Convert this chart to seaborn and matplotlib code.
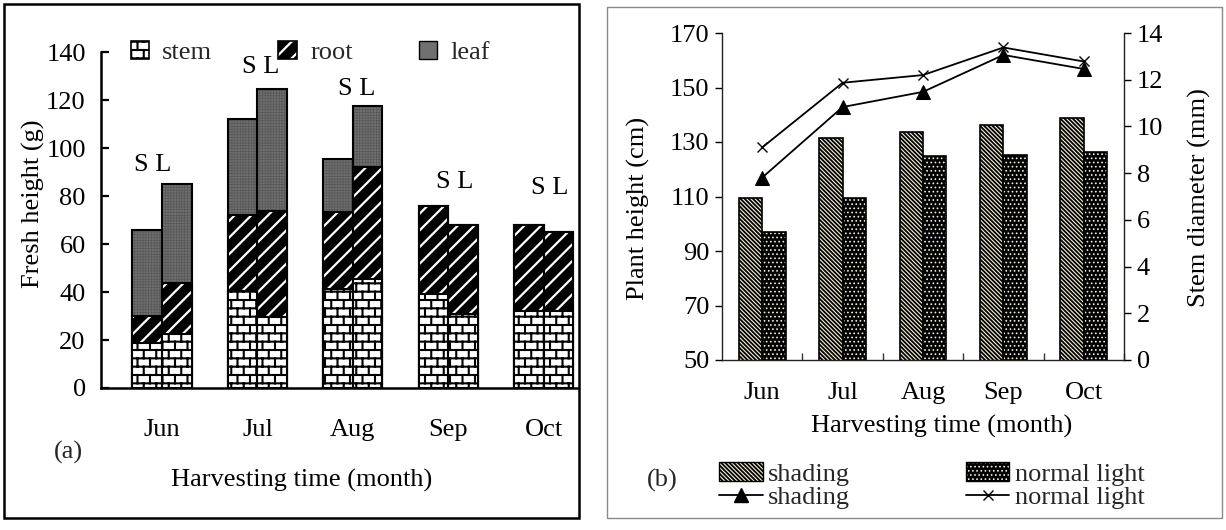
import warnings
warnings.filterwarnings("ignore")
import numpy as np
import pandas as pd
import matplotlib
matplotlib.use("Agg")
import matplotlib.pyplot as plt
import matplotlib.hatch as mhatch
from matplotlib.patches import Patch, Rectangle
from matplotlib.lines import Line2D
from matplotlib.path import Path
import seaborn as sns

# ---------------- data ----------------
months = ["Jun", "Jul", "Aug", "Sep", "Oct"]
treat_labels = ["S", "L"]

# panel (a): fresh weight parts (g); S = shading, L = normal light
stem_S = [18.6, 40.5, 41.1, 39.4, 32.1]
stem_L = [22.5, 29.5, 45.3, 31.0, 32.1]
root_S = [11.6, 31.8, 32.1, 36.6, 35.7]
root_L = [21.4, 44.4, 46.9, 36.8, 32.9]
leaf_S = [35.5, 40.0, 22.1, 0.0, 0.0]
leaf_L = [41.2, 51.0, 25.6, 0.0, 0.0]

# panel (b): plant height (cm) bars and stem diameter (mm) lines
height_S = [109.5, 131.5, 133.7, 136.3, 138.9]
height_L = [97.0, 109.3, 124.9, 125.3, 126.2]
diam_S = [7.81, 10.83, 11.48, 13.06, 12.46]
diam_L = [9.10, 11.87, 12.20, 13.38, 12.78]

a_yticks = [0, 20, 40, 60, 80, 100, 120, 140]
b_yticks = [50, 70, 90, 110, 130, 150, 170]
b_y2ticks = [0, 2, 4, 6, 8, 10, 12, 14]

# ---------------- custom brick hatch ----------------
class BrickHatch(mhatch.HatchPatternBase):
    rows = 12
    cols = 8

    def __init__(self, hatch, density):
        self.segs = []
        if "B" in hatch:
            R, C = self.rows, self.cols
            for i in range(R + 1):
                self.segs.append(((0.0, i / R), (1.0, i / R)))
            for i in range(R):
                y0, y1 = i / R, (i + 1) / R
                if i % 2 == 0:
                    xs = [j / C for j in range(C + 1)]
                else:
                    xs = [(j + 0.5) / C for j in range(C)]
                for x in xs:
                    self.segs.append(((x, y0), (x, y1)))
        self.num_vertices = 2 * len(self.segs)

    def set_vertices_and_codes(self, vertices, codes):
        for k, (a, b) in enumerate(self.segs):
            vertices[2 * k] = a
            vertices[2 * k + 1] = b
            codes[2 * k] = Path.MOVETO
            codes[2 * k + 1] = Path.LINETO


mhatch._hatch_types.append(BrickHatch)

# ---------------- style ----------------
sns.set_theme(style="ticks")
plt.rcParams["font.family"] = ["Liberation Serif", "DejaVu Serif"]
plt.rcParams["hatch.linewidth"] = 1.4
FS = 19
cream = "#f4f0d4"
leaf_gray = "#707070"
stripes = "\\" * 8
dots = "...."
HATCH_LW = {stripes: 1.3, dots: 0.7, "B": 1.5, "//": 1.6, "++++++": 0.5}

W, H = 1226, 530
fig = plt.figure(figsize=(W / 100, H / 100), dpi=100, facecolor="white")


def fx(px):
    return px / W


def fy(py):
    return 1 - py / H


def set_hlw(p, hlw):
    if hlw is not None and hasattr(p, "set_hatch_linewidth"):
        p.set_hatch_linewidth(hlw)
    return p


def fix_legend_hatches(leg):
    for p in leg.findobj(Patch):
        h = p.get_hatch()
        if h in HATCH_LW:
            set_hlw(p, HATCH_LW[h])


def style_patch(ax, p, face, hcolor, hatch, lw=1.4):
    p.set_facecolor(face)
    p.set_edgecolor(hcolor)
    p.set_hatch(hatch)
    p.set_linewidth(0)
    set_hlw(p, HATCH_LW.get(hatch))
    ax.add_patch(Rectangle(p.get_xy(), p.get_width(), p.get_height(),
                           fill=False, edgecolor="black", linewidth=lw,
                           zorder=p.get_zorder()))


# ================= panel (a) =================
ax_a = fig.add_axes([fx(101), fy(388), fx(578) - fx(101), fy(52.3) - fy(388)])
df_a = pd.DataFrame({
    "month": months * 2,
    "treat": [treat_labels[0]] * len(months) + [treat_labels[1]] * len(months),
    "stem": stem_S + stem_L,
    "root": root_S + root_L,
    "leaf": leaf_S + leaf_L,
})
df_a["top_root"] = df_a["stem"] + df_a["root"]
df_a["top_leaf"] = df_a["top_root"] + df_a["leaf"]

layers = [
    ("top_leaf", dict(face=leaf_gray, hcolor="#565656", hatch="++++++")),
    ("top_root", dict(face="black", hcolor="white", hatch="//")),
    ("stem", dict(face="white", hcolor="black", hatch="B")),
]
for col, st in layers:
    n0 = len(ax_a.patches)
    sns.barplot(data=df_a, x="month", y=col, hue="treat", order=months,
                hue_order=treat_labels, palette={"S": "white", "L": "white"},
                width=0.62, errorbar=None, legend=False, ax=ax_a)
    for p in list(ax_a.patches[n0:]):
        style_patch(ax_a, p, st["face"], st["hcolor"], st["hatch"], lw=1.5)

ax_a.set_xlim(-0.64, 4.36)
ax_a.set_ylim(0, 140)
ax_a.set_yticks(a_yticks)
ax_a.set_yticklabels([str(v) for v in a_yticks])
ax_a.tick_params(axis="y", direction="in", length=6, width=1.6, pad=11,
                 labelsize=FS, colors="black")
ax_a.tick_params(axis="x", length=0, pad=22, labelsize=FS, colors="black")
for s in ["top", "right"]:
    ax_a.spines[s].set_visible(False)
for s in ["left", "bottom"]:
    ax_a.spines[s].set_linewidth(1.8)
    ax_a.spines[s].set_color("black")
ax_a.set_xlabel("Harvesting time (month)", fontsize=FS, color="black")
ax_a.set_ylabel("Fresh height (g)", fontsize=FS, color="black")
ax_a.xaxis.set_label_coords(0.42, -0.24)
ax_a.yaxis.set_label_coords(-0.118, 0.55)

# S L labels above each pair
totals = df_a.groupby("month")["top_leaf"].max().reindex(months).values
sl_dx = [-0.1, 0.03, 0.04, 0.07, 0.06]
sl_dy = [8, 9, 7, 10, 15.5]
for i, m in enumerate(months):
    ax_a.text(i + sl_dx[i], totals[i] + sl_dy[i], " ".join(treat_labels),
              ha="center", va="center", fontsize=FS, color="black")

# legend (a)
h_stem = Patch(facecolor="white", edgecolor="black", hatch="B", linewidth=1.2)
h_root = (Patch(facecolor="black", edgecolor="white", hatch="//", linewidth=0),
          Patch(fill=False, edgecolor="black", linewidth=1.2))
h_leaf = Patch(facecolor=leaf_gray, edgecolor="black", linewidth=1.0)
leg_a = ax_a.legend([h_stem, h_root, h_leaf], ["stem", "root", "leaf"], ncol=3,
                    loc="center left", bbox_to_anchor=(0.018, 1.0), frameon=False,
                    fontsize=FS, handlelength=0.7, handleheight=0.7,
                    handletextpad=0.5, columnspacing=2.5, borderpad=0.3)
fix_legend_hatches(leg_a)

fig.text(fx(68), fy(452), "(a)", fontsize=FS, ha="center", va="center")

# ================= panel (b) =================
ax_b = fig.add_axes([fx(722), fy(360), fx(1124) - fx(722), fy(33) - fy(360)])
df_b = pd.DataFrame({
    "month": months * 2,
    "treat": [treat_labels[0]] * len(months) + [treat_labels[1]] * len(months),
    "height": height_S + height_L,
})
sns.barplot(data=df_b, x="month", y="height", hue="treat", order=months,
            hue_order=treat_labels, palette={"S": "white", "L": "white"},
            width=0.58, errorbar=None, legend=False, ax=ax_b)
for p in list(ax_b.patches):
    cx = p.get_x() + p.get_width() / 2
    if cx < round(cx):
        style_patch(ax_b, p, cream, "black", stripes, lw=1.2)
    else:
        style_patch(ax_b, p, "black", cream, dots, lw=1.2)

ax_b.set_xlim(-0.5, 4.5)
ax_b.set_ylim(50, 170)
ax_b.set_yticks(b_yticks)
ax_b.set_yticklabels([str(v) for v in b_yticks])
ax_b.set_xticks(np.arange(len(months)) + 0.5, minor=True)
ax_b.tick_params(axis="y", direction="out", length=5, width=1, pad=4,
                 labelsize=FS, colors="black")
ax_b.tick_params(axis="x", which="major", length=0, pad=16, labelsize=FS,
                 colors="black")
ax_b.tick_params(axis="x", which="minor", direction="in", length=5, width=1,
                 colors="#333333")
for s in ["top", "right"]:
    ax_b.spines[s].set_visible(False)
for s in ["left", "bottom"]:
    ax_b.spines[s].set_linewidth(1.0)
    ax_b.spines[s].set_color("#222222")
ax_b.set_xlabel("Harvesting time (month)", fontsize=FS, color="black")
ax_b.set_ylabel("Plant height (cm)", fontsize=FS, color="black")
ax_b.xaxis.set_label_coords(0.547, -0.168)
ax_b.yaxis.set_label_coords(-0.18, 0.465)

ax2 = ax_b.twinx()
pos = np.arange(len(months))
sns.lineplot(x=pos, y=diam_L, ax=ax2, color="black", linewidth=1.3,
             marker="x", markersize=7, markeredgewidth=1.0,
             markeredgecolor="black")
sns.lineplot(x=pos, y=diam_S, ax=ax2, color="black", linewidth=1.3,
             marker="^", markersize=10, markeredgecolor="black",
             markerfacecolor="black")
ax2.set_ylim(0, 14)
ax2.set_yticks(b_y2ticks)
ax2.set_yticklabels([str(v) for v in b_y2ticks])
ax2.tick_params(axis="y", direction="out", length=5, width=1, pad=4,
                labelsize=FS, colors="black")
for s in ["top", "left", "bottom"]:
    ax2.spines[s].set_visible(False)
ax2.spines["right"].set_linewidth(1.0)
ax2.spines["right"].set_color("#222222")
ax2.set_ylabel("Stem diameter (mm)", fontsize=FS, color="black")
ax2.yaxis.set_label_coords(1.16, 0.498)

# legend (b)
hb_shade = Patch(facecolor=cream, edgecolor="black", hatch=stripes, linewidth=1.0)
hb_norm = (Patch(facecolor="black", edgecolor=cream, hatch=dots, linewidth=0),
           Patch(fill=False, edgecolor="black", linewidth=1.0))
hl_shade = Line2D([], [], color="black", linewidth=1.3, marker="^", markersize=10)
hl_norm = Line2D([], [], color="black", linewidth=1.3, marker="x", markersize=7,
                 markeredgewidth=1.0)
leg_b = ax_b.legend([hb_shade, hl_shade, hb_norm, hl_norm],
                    ["shading", "shading", "normal light", "normal light"], ncol=2,
                    loc="center left", bbox_to_anchor=(-0.06, -0.385), frameon=False,
                    fontsize=FS, handlelength=1.65, handleheight=0.7,
                    handletextpad=0.2, columnspacing=4.4, labelspacing=0.0,
                    borderpad=0.3)
fix_legend_hatches(leg_b)

fig.text(fx(662), fy(480), "(b)", fontsize=FS, ha="center", va="center")

# frames around the two panels
fig.add_artist(Rectangle((fx(4), fy(518)), fx(579) - fx(4), fy(4) - fy(518),
                         transform=fig.transFigure, fill=False,
                         edgecolor="black", linewidth=1.8))
fig.add_artist(Rectangle((fx(607), fy(518)), fx(1222) - fx(607), fy(7) - fy(518),
                         transform=fig.transFigure, fill=False,
                         edgecolor="#8a8a8a", linewidth=1.0))

fig.savefig("out.png", dpi=100, facecolor="white")
